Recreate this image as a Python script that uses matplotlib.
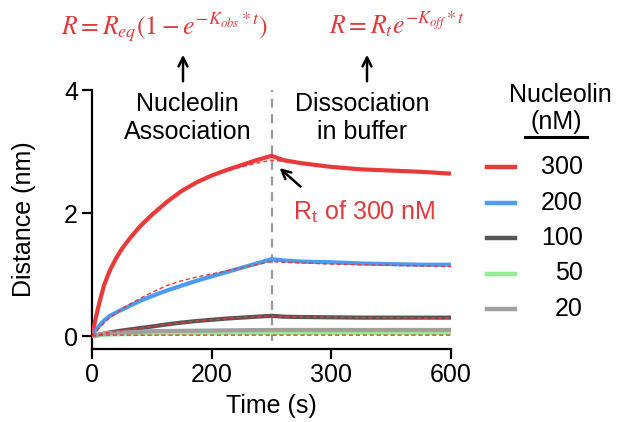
import matplotlib
matplotlib.use('Agg')
import matplotlib.pyplot as plt
from matplotlib.lines import Line2D

plt.rcParams['font.family'] = ['Liberation Sans', 'DejaVu Sans']
plt.rcParams['mathtext.fontset'] = 'stix'

# time grid (s) and distances (nm)
t = [0, 5, 10, 15, 20, 25, 30, 40, 50, 65, 80, 100, 125, 150, 175, 200, 225, 250,
     275, 300, 320, 350, 400, 450, 500, 550, 600]
d300 = [0, 0.24, 0.45, 0.64, 0.82, 0.95, 1.07, 1.26, 1.42, 1.61, 1.78, 1.97, 2.18,
        2.36, 2.50, 2.61, 2.70, 2.78, 2.86, 2.93, 2.86, 2.81, 2.75, 2.71, 2.69, 2.67, 2.64]
d200 = [0, 0.08, 0.14, 0.20, 0.25, 0.29, 0.33, 0.38, 0.43, 0.50, 0.57, 0.65, 0.74,
        0.82, 0.90, 0.97, 1.04, 1.11, 1.18, 1.25, 1.23, 1.21, 1.20, 1.18, 1.17, 1.16, 1.16]
d100 = [0, 0.01, 0.02, 0.03, 0.04, 0.05, 0.06, 0.075, 0.09, 0.11, 0.13, 0.155, 0.19,
        0.22, 0.245, 0.265, 0.285, 0.30, 0.315, 0.33, 0.315, 0.31, 0.305, 0.30, 0.30, 0.30, 0.30]
d50 = [0, 0.005, 0.01, 0.015, 0.02, 0.022, 0.025, 0.028, 0.03, 0.033, 0.036, 0.04, 0.042,
       0.044, 0.045, 0.046, 0.047, 0.048, 0.049, 0.05, 0.05, 0.05, 0.05, 0.05, 0.05, 0.05, 0.05]
d20 = [0, 0.01, 0.02, 0.03, 0.04, 0.045, 0.05, 0.055, 0.06, 0.065, 0.07, 0.08, 0.083,
       0.086, 0.088, 0.09, 0.093, 0.095, 0.098, 0.10, 0.10, 0.10, 0.10, 0.10, 0.10, 0.10, 0.10]

# fitted curves (red dashed)
fit300 = [0, 0.23, 0.44, 0.63, 0.81, 0.95, 1.07, 1.27, 1.43, 1.63, 1.80, 1.99, 2.19,
          2.36, 2.49, 2.60, 2.68, 2.75, 2.81, 2.86, 2.84, 2.80, 2.75, 2.71, 2.68, 2.66, 2.64]
fit200 = [0, 0.05, 0.11, 0.16, 0.21, 0.26, 0.30, 0.37, 0.44, 0.53, 0.61, 0.71, 0.82,
          0.90, 0.96, 1.01, 1.06, 1.11, 1.16, 1.21, 1.20, 1.19, 1.17, 1.16, 1.15, 1.14, 1.13]
fit100 = [0, 0.01, 0.02, 0.03, 0.04, 0.05, 0.06, 0.075, 0.09, 0.11, 0.13, 0.155, 0.19,
          0.22, 0.245, 0.265, 0.285, 0.30, 0.315, 0.325, 0.315, 0.31, 0.305, 0.30, 0.30, 0.29, 0.29]
fit50 = [0, 0.005, 0.01, 0.012, 0.014, 0.015, 0.015, 0.015, 0.015, 0.015, 0.015, 0.015, 0.015,
         0.015, 0.015, 0.015, 0.015, 0.015, 0.015, 0.015, 0.015, 0.015, 0.015, 0.015, 0.015, 0.015, 0.015]

conc_labels = ['300', '200', '100', '50', '20']
colors = ['#e8393b', '#4b9cf0', '#555555', '#93ee93', '#a0a0a0']
series = [d300, d200, d100, d50, d20]
fits = [fit300, fit200, fit100, fit50]

xticks = [0, 200, 400, 600]
xticklabels = ['0', '200', '300', '600']
yticks = [0, 2, 4]

W, H = 621, 422
fig = plt.figure(figsize=(W / 100, H / 100), dpi=100)
ax = fig.add_axes([92 / W, 1 - 349 / H, 359 / W, 259 / H])

for ys, c in zip(series, colors):
    ax.plot(t, ys, color=c, linewidth=3, solid_capstyle='butt', zorder=3)
for ys in fits:
    ax.plot(t, ys, color='#e8393b', linewidth=1, linestyle=(0, (3, 2)), zorder=4)

ax.plot([300, 300], [-0.08, 4.0], color='#999999', linewidth=1.6,
        linestyle=(0, (4, 3)), zorder=2)

ax.set_xlim(0, 600)
ax.set_ylim(-0.21, 4)
ax.set_xticks(xticks)
ax.set_xticklabels(xticklabels)
ax.set_yticks(yticks)
for s in ['top', 'right']:
    ax.spines[s].set_visible(False)
for s in ['left', 'bottom']:
    ax.spines[s].set_linewidth(1.6)
ax.tick_params(width=1.6, length=7, labelsize=18, pad=3)
ax.set_xlabel('Time (s)', fontsize=18, labelpad=5)
ax.set_ylabel('Distance (nm)', fontsize=18, labelpad=20)

# phase labels and formulas
ax.text(160, 3.54, 'Nucleolin\nAssociation', fontsize=18, ha='center', va='center')
ax.text(451, 3.54, 'Dissociation\nin buffer', fontsize=18, ha='center', va='center')
red = '#e03a3c'
fig.text(165 / W, 1 - 27 / H, r'$R = R_{eq}(1 - e^{-K_{obs}*t})$', color=red,
         fontsize=18.5, ha='center', va='center')
fig.text(397 / W, 1 - 24 / H, r'$R = R_{t}e^{-K_{off}*t}$', color=red,
         fontsize=18.5, ha='center', va='center')
for x in [183, 367]:
    ax.annotate('', xy=(x / W, 1 - 52 / H), xytext=(x / W, 1 - 84 / H),
                xycoords='figure fraction', textcoords='figure fraction',
                arrowprops=dict(arrowstyle='->', color='black', lw=1.8,
                                mutation_scale=16))

ax.text(336, 2.02, r'R$_\mathregular{t}$ of 300 nM', color=red, fontsize=18,
        ha='left', va='center')
ax.annotate('', xy=(310, 2.76), xytext=(352, 2.4),
            arrowprops=dict(arrowstyle='->', color='black', lw=1.8, mutation_scale=16))

# legend
fig.text(560 / W, 1 - 95 / H, 'Nucleolin', fontsize=18, ha='center', va='center')
fig.text(556 / W, 1 - 122 / H, '(nM)', fontsize=18, ha='center', va='center')
fig.add_artist(Line2D([525 / W, 587 / W], [1 - 137 / H, 1 - 137 / H],
                      color='black', linewidth=2.2))
for i, (lab, c) in enumerate(zip(conc_labels, colors)):
    y = 1 - (167 + i * 35.5) / H
    fig.add_artist(Line2D([487 / W, 515 / W], [y, y], color=c, linewidth=3.2))
    fig.text(583 / W, y, lab, fontsize=18, ha='right', va='center')

fig.savefig('out.png', dpi=100, facecolor='white')
